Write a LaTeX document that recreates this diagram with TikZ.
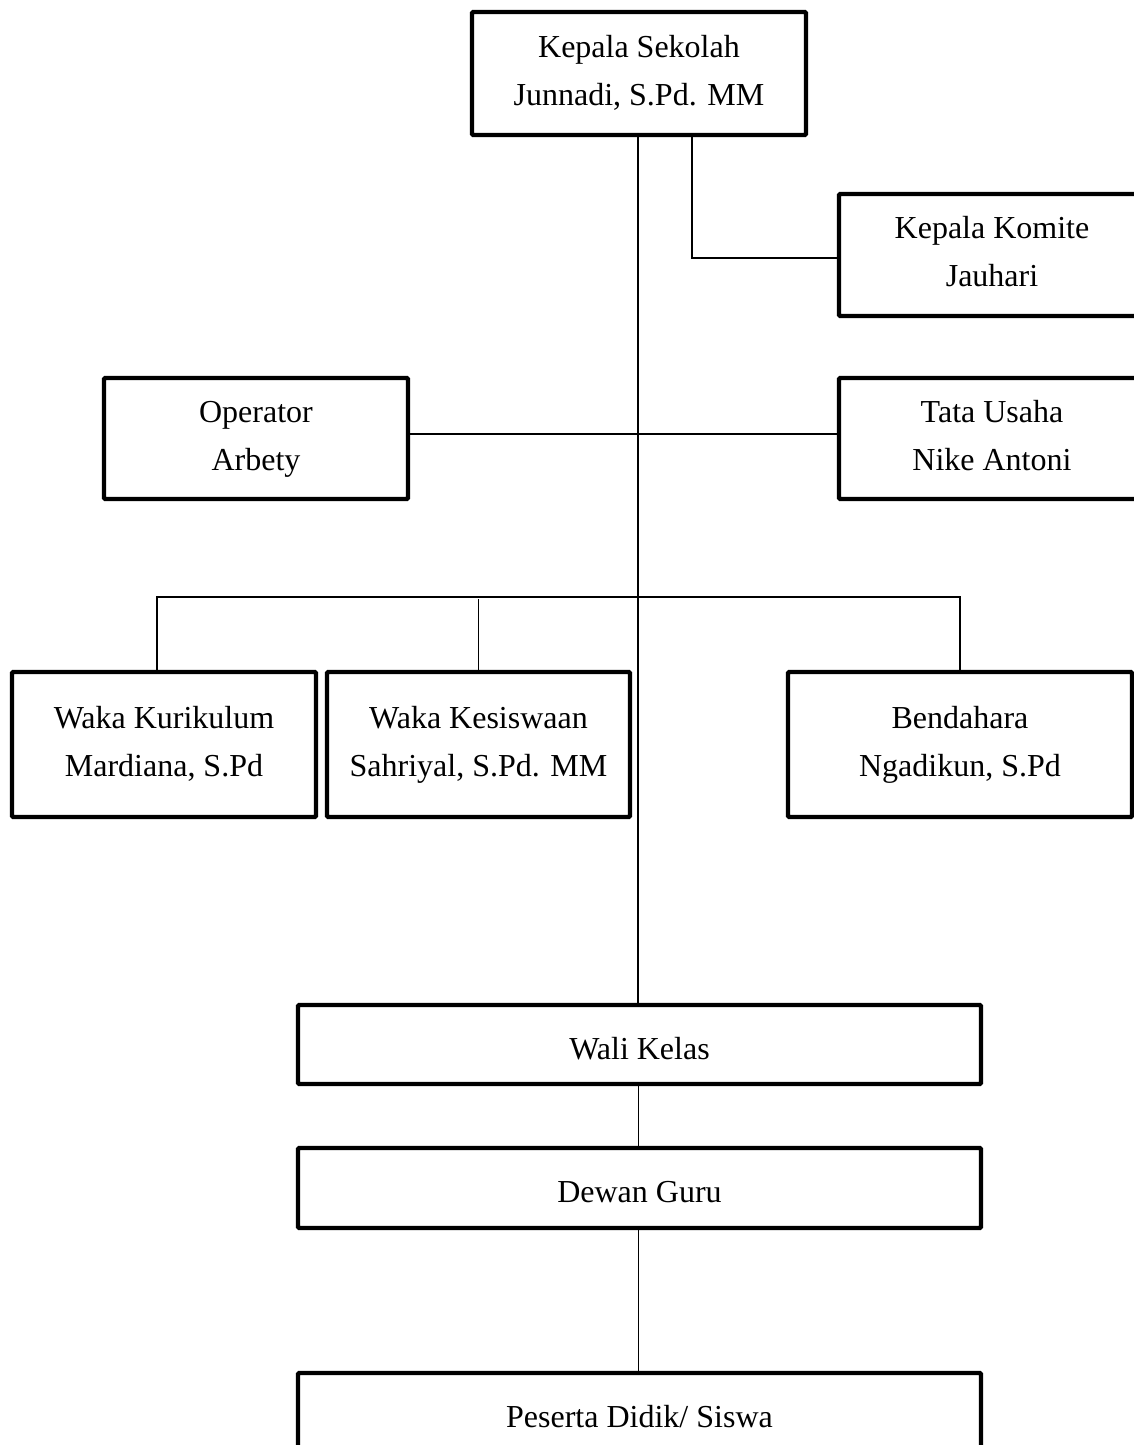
\documentclass[tikz,border=0pt]{standalone}
\usepackage{fontspec}
\setmainfont{Liberation Serif}
\newcommand\lineA{\rule{0pt}{16pt}}
\newcommand\lineB{\rule[-8.5pt]{0pt}{8.5pt}}
\newcommand\lineS{\rule[-2pt]{0pt}{18.5pt}}
\begin{document}
\begin{tikzpicture}[x=0.5pt,y=-0.5pt,
  box/.style={draw, line width=2.2pt, inner sep=0pt, align=center,
    font=\fontsize{16}{24}\selectfont, rounded corners=0.6pt},
  conn/.style={line width=0.85pt}]
\useasboundingbox (0,0) rectangle (1134,1445);
\fill[white] (0,0) rectangle (1134,1445);
\clip (0,0) rectangle (1134,1445);

\node[box, minimum width=167pt, minimum height=61.5pt] (ks) at (639,73.5) {\lineA Kepala Sekolah\\Junnadi, S.Pd. MM\lineB};
\node[box, minimum width=153pt, minimum height=61pt] (komite) at (992,255) {\lineA Kepala Komite\\Jauhari\lineB};
\node[box, minimum width=152pt, minimum height=60.5pt] (op) at (256,438.5) {\lineA Operator\\Arbety\lineB};
\node[box, minimum width=153pt, minimum height=60.5pt] (tu) at (992,438.5) {\lineA Tata Usaha\\Nike Antoni\lineB};
\node[box, minimum width=152pt, minimum height=72.5pt] (wk) at (164,744.5) {\lineA Waka Kurikulum\\Mardiana, S.Pd\lineB};
\node[box, minimum width=151.5pt, minimum height=72.5pt] (wks) at (478.5,744.5) {\lineA Waka Kesiswaan\\Sahriyal, S.Pd. MM\lineB};
\node[box, minimum width=172pt, minimum height=72.5pt] (bend) at (960,744.5) {\lineA Bendahara\\Ngadikun, S.Pd\lineB};
\node[box, minimum width=341.5pt, minimum height=39.5pt] (wali) at (639.5,1044.5) {\lineS Wali Kelas};
\node[box, minimum width=341.5pt, minimum height=40pt] (dewan) at (639.5,1188) {\lineS Dewan Guru};
\node[box, minimum width=341.5pt, minimum height=40pt] (peserta) at (639.5,1413) {\lineS Peserta Didik/ Siswa};

\coordinate (bar) at (638,597);

\draw[conn] ([xshift=-0.5pt]ks.south) -- ([xshift=-0.5pt]ks.south |- wali.north);
\draw[conn] ([xshift=26.5pt]ks.south) |- ([yshift=-1.5pt]komite.west);
\draw[conn] ([yshift=2.25pt]op.east) -- ([yshift=2.25pt]tu.west);
\draw[conn] ([xshift=-3.5pt]wk.north) |- (bar) -| (bend.north);
\draw[conn] (wks.north) -- ++(0,-71);
\draw[conn] ([xshift=-0.5pt]wali.south) -- ([xshift=-0.5pt]dewan.north);
\draw[conn] ([xshift=-0.5pt]dewan.south) -- ([xshift=-0.5pt]peserta.north);
\end{tikzpicture}
\end{document}
